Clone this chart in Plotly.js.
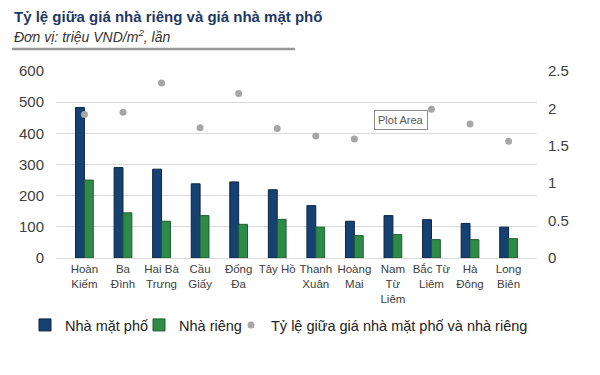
<!DOCTYPE html>
<html><head><meta charset="utf-8">
<script src="https://cdn.plot.ly/plotly-3.0.1.min.js"></script>
<style>html,body{margin:0;padding:0;background:#fff;}#chart{width:600px;height:375px;}</style>
</head><body><div id="chart"></div>
<script>
const categories = ["Hoàn Kiếm","Ba Đình","Hai Bà Trưng","Cầu Giấy","Đống Đa","Tây Hồ","Thanh Xuân","Hoàng Mai","Nam Từ Liêm","Bắc Từ Liêm","Hà Đông","Long Biên"];
const tickLabels = ["Hoàn<br>Kiếm","Ba<br>Đình","Hai Bà<br>Trưng","Cầu<br>Giấy","Đống<br>Đa","Tây Hồ","Thanh<br>Xuân","Hoàng<br>Mai","Nam<br>Từ<br>Liêm","Bắc Từ<br>Liêm","Hà<br>Đông","Long<br>Biên"];
const nhaMatPho = [483, 290, 285, 238, 244, 219, 168, 118, 136, 123, 111, 99];
const nhaRieng = [250, 145, 118, 136, 108, 124, 99, 72, 75, 59, 59, 62];
const tyLe = [1.92, 1.95, 2.34, 1.74, 2.20, 1.73, 1.63, 1.59, 1.81, 1.99, 1.79, 1.56];

const font = "Liberation Sans, Arial, sans-serif";
const L = 56, R = 63, T = 71, B = 117, PW = 600 - L - R, PH = 375 - T - B;
const traces = [
  {type:"bar", name:"Nhà mặt phố", x:categories, y:nhaMatPho, legend:"legend",
   marker:{color:"#154273", line:{color:"#0b2440", width:1}}},
  {type:"bar", name:"Nhà riêng", x:categories, y:nhaRieng, legend:"legend2",
   marker:{color:"#2e8b47", line:{color:"#1d5e2f", width:1}}},
  {type:"scatter", mode:"markers", name:"Tỷ lệ giữa giá nhà mặt phố và nhà riêng", x:categories, y:tyLe, yaxis:"y2", legend:"legend3",
   marker:{color:"#a6a6a6", size:7}}
];
const legBase = {orientation:"h", xref:"container", yref:"container", xanchor:"left", y:(375-325)/375, yanchor:"middle",
  font:{size:14.5, color:"#222"}, itemwidth:30, bgcolor:"rgba(0,0,0,0)", borderwidth:0};
const layout = {
  width:600, height:375,
  margin:{l:L, r:R, t:T, b:B},
  paper_bgcolor:"#fff", plot_bgcolor:"#fff",
  font:{family:font, color:"#404040"},
  barmode:"group", bargap:0.54, bargroupgap:0,
  showlegend:true,
  legend:Object.assign({}, legBase, {x:25/600}),
  legend2:Object.assign({}, legBase, {x:139/600}),
  legend3:Object.assign({}, legBase, {x:231/600}),
  xaxis:{tickmode:"array", tickvals:categories, ticktext:tickLabels, tickfont:{size:11.5, color:"#404040"},
         showgrid:false, zeroline:false, showline:true, linecolor:"#d9d9d9", ticks:"", fixedrange:true, tickangle:0},
  yaxis:{range:[0,600], dtick:100, tickfont:{size:15, color:"#404040"}, gridcolor:"#d9d9d9",
         zeroline:false, showline:false, ticks:"", ticklabelstandoff:11},
  yaxis2:{range:[0,2.5], dtick:0.5, overlaying:"y", side:"right", showgrid:false, zeroline:false,
          tickfont:{size:15, color:"#404040"}, ticks:"", ticklabelstandoff:10},
  annotations:[
    {xref:"paper", yref:"paper", x:(12-L)/PW, y:1+(T-17)/PH, xanchor:"left", yanchor:"middle", showarrow:false,
     text:"<b>Tỷ lệ giữa giá nhà riêng và giá nhà mặt phố</b>", font:{size:15, color:"#1f3864", family:font}},
    {xref:"paper", yref:"paper", x:(12-L)/PW, y:1+(T-36)/PH, xanchor:"left", yanchor:"middle", showarrow:false,
     text:"<i>Đơn vị: triệu VND/m<sup>2</sup>, lần</i>", font:{size:14, color:"#333", family:font}},
    {xref:"paper", yref:"paper", x:(401-L)/PW, y:(258-120)/PH, xanchor:"center", yanchor:"middle", showarrow:false,
     text:"Plot Area", font:{size:11, color:"#555", family:"Liberation Sans, sans-serif"},
     bgcolor:"#fff", bordercolor:"#8c8c8c", borderwidth:1, borderpad:3}
  ],
  shapes:[
    {type:"line", xref:"paper", yref:"paper", x0:(12-L)/PW, x1:(295-L)/PW, y0:1+(T-49)/PH, y1:1+(T-49)/PH,
     line:{color:"#999", width:2.5}}
  ]
};
Plotly.newPlot("chart", traces, layout, {displayModeBar:false, staticPlot:true});
</script></body></html>
